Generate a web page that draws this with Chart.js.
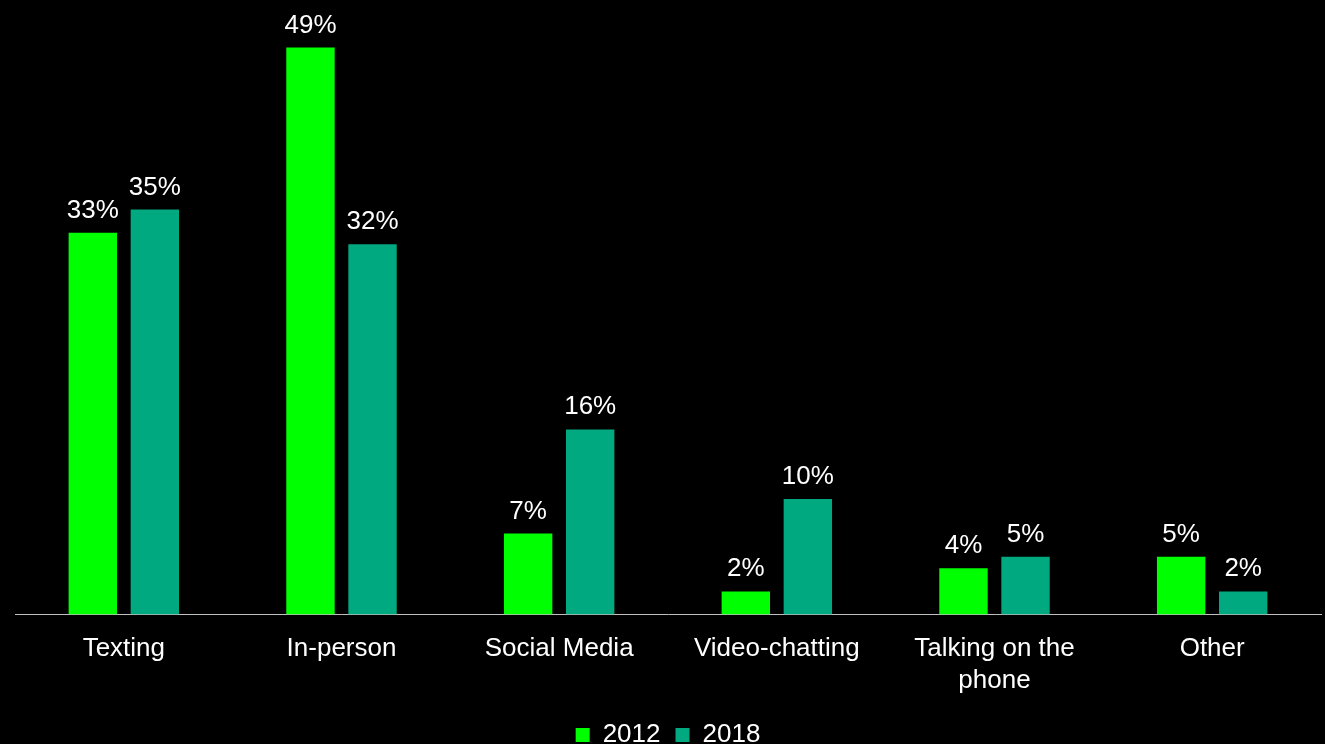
<!DOCTYPE html>
<html>
<head>
<meta charset="utf-8">
<script src="https://cdn.jsdelivr.net/npm/chart.js@4"></script>
<style>
  html, body { margin: 0; padding: 0; background: #000; overflow: hidden; height: 744px; }
  canvas { display: block; }
</style>
</head>
<body>
<canvas id="chart" width="1325" height="758"></canvas>
<script>
// Channels and the share of respondents choosing each, by survey year
const categories = ['Texting', 'In-person', 'Social Media', 'Video-chatting', ['Talking on the', 'phone'], 'Other'];
const values2012 = [33, 49, 7, 2, 4, 5];
const values2018 = [35, 32, 16, 10, 5, 2];
const seriesNames = ['2012', '2018'];

const FONT = 'Liberation Sans, Arial, Helvetica, sans-serif';

// Writes each bar's value as a percentage just above its top
const valueLabels = {
  id: 'valueLabels',
  afterDatasetsDraw(chart) {
    const ctx = chart.ctx;
    ctx.save();
    ctx.fillStyle = '#ffffff';
    ctx.font = '26px ' + FONT;
    ctx.textAlign = 'center';
    ctx.textBaseline = 'alphabetic';
    chart.data.datasets.forEach((ds, i) => {
      chart.getDatasetMeta(i).data.forEach((bar, j) => {
        ctx.fillText(ds.data[j] + '%', bar.x, bar.y - 15);
      });
    });
    ctx.restore();
  }
};

new Chart(document.getElementById('chart'), {
  type: 'bar',
  data: {
    labels: categories,
    datasets: [
      { label: seriesNames[0], data: values2012, backgroundColor: '#00FF00', borderWidth: 0 },
      { label: seriesNames[1], data: values2018, backgroundColor: '#00A97F', borderWidth: 0 }
    ]
  },
  options: {
    responsive: false,
    animation: false,
    devicePixelRatio: 1,
    categoryPercentage: 0.57,
    barPercentage: 0.78,
    layout: { padding: { left: 15, right: 4, top: 36, bottom: 0 } },
    plugins: {
      tooltip: { enabled: false },
      legend: {
        position: 'bottom',
        labels: {
          color: '#ffffff',
          font: { family: FONT, size: 26 },
          boxWidth: 14,
          boxHeight: 14,
          padding: 15
        }
      }
    },
    scales: {
      x: {
        grid: { display: false, drawTicks: false },
        border: { display: true, color: '#BFBFBF', width: 1 },
        ticks: {
          color: '#ffffff',
          font: { family: FONT, size: 26, lineHeight: 1.2 },
          padding: 19,
          maxRotation: 0,
          autoSkip: false
        },
        // tighten the gap between the category labels and the legend
        afterFit(scale) { scale.height -= 8; }
      },
      y: {
        display: false,
        min: 0,
        max: 50
      }
    }
  },
  plugins: [valueLabels]
});
</script>
</body>
</html>
